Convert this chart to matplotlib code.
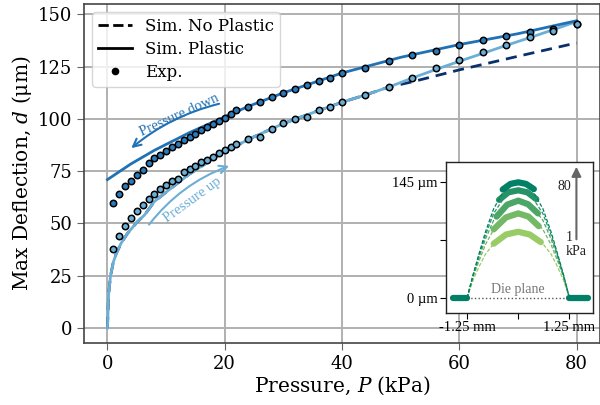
import matplotlib
matplotlib.use("Agg")
import matplotlib.pyplot as plt
from matplotlib.lines import Line2D

plt.rcParams['font.family'] = ['DejaVu Serif']
plt.rcParams['mathtext.fontset'] = 'dejavuserif'

# experimental points, loading (pressure up)
p_up = [1, 2, 3, 4, 5, 6, 7, 8, 9, 10, 11, 12, 13, 14, 15, 16, 17, 18, 19, 20, 21, 22,
        24, 26, 28, 30, 32, 34, 36, 38, 40, 44, 48, 52, 56, 60, 64, 68, 72, 76, 80]
d_up = [37.6, 43.9, 48.8, 52.7, 56.1, 59.0, 61.7, 64.1, 66.5, 68.4, 70.5, 71.3, 74.4, 76.0,
        77.6, 79.2, 80.6, 82.0, 83.5, 85.0, 86.6, 88.0,
        90.4, 91.6, 95.1, 97.9, 100.0, 100.8, 104.1, 105.8, 108.0,
        111.6, 115.5, 119.4, 124.3, 128.0, 132.0, 135.2, 139.4, 141.9, 145.4]

# experimental points, unloading (pressure down)
p_down = p_up
d_down = [60.0, 63.9, 67.9, 70.5, 73.0, 75.8, 78.9, 81.1, 83.0, 84.8, 86.4, 88.1, 90.0, 91.5,
          92.9, 94.5, 96.0, 97.6, 99.1, 100.5, 102.6, 104.1,
          105.9, 108.0, 110.4, 112.4, 114.2, 116.2, 118.2, 119.4, 122.1,
          124.6, 127.9, 130.7, 132.7, 135.5, 137.7, 139.6, 141.7, 143.3, 145.4]

# simulation with plasticity, loading branch
sim_up_p = [0, 0.2, 0.5, 1, 1.5, 2.3, 3.4, 5, 6.3, 8, 10, 14, 20, 25, 30, 35, 40,
            44, 48, 52, 56, 60, 64, 68, 72, 76, 80]
sim_up_d = [0, 16, 24.5, 31.5, 35.6, 40.4, 45.2, 50.5, 54, 60.5, 65, 73.7, 84.5, 91.5,
            97.8, 103, 108, 111.5, 115.3, 119.6, 123.7, 127.6, 131.4, 135.2, 138.9, 142.7, 146.6]

# simulation with plasticity, unloading branch
sim_down_p = [0, 4, 8, 14, 20, 24, 30, 40, 50, 60, 70, 80]
sim_down_d = [71, 78.5, 85, 93.5, 101, 106, 112.5, 122, 129.5, 135.6, 140.8, 147]

# simulation without plasticity
sim_el_p = [0, 0.2, 0.5, 1, 1.5, 2.3, 3.4, 5, 6.3, 8, 10, 14, 20, 25, 30, 35, 40,
            44, 48, 52, 60, 70, 80]
sim_el_d = [0, 16, 24.5, 31.5, 35.6, 40.4, 45.2, 50.5, 54, 60.5, 65, 73.7, 84.5, 91.5,
            97.8, 103, 108, 111.5, 115.3, 117.8, 123.5, 130, 136.4]

# inset: membrane profiles (x in mm, deflection in um), 80 kPa first
prof_x = [-1.25, -1.1, -0.95, -0.8, -0.6, -0.3, 0, 0.3, 0.6, 0.8, 0.95, 1.1, 1.25]
prof_fit = [
    [0, 30, 57, 83, 112, 139, 145, 139, 112, 83, 57, 30, 0],
    [0, 29, 55, 79, 106, 129.5, 135, 129.5, 106, 79, 55, 29, 0],
    [0, 28, 52, 74, 97.5, 117, 122, 117, 97.5, 74, 52, 28, 0],
    [0, 27, 47.5, 67, 86, 101.5, 106, 101.5, 86, 67, 47.5, 27, 0],
    [0, 23, 40, 55, 68, 80, 83, 80, 68, 55, 40, 23, 0],
]
scan_x = [
    [-0.38, -0.19, 0, 0.19, 0.38],
    [-0.47, -0.24, 0, 0.22, 0.44],
    [-0.53, -0.27, 0, 0.24, 0.48],
    [-0.6, -0.3, 0, 0.25, 0.5],
    [-0.6, -0.3, 0, 0.28, 0.55],
]
scan_d = [
    [136, 143, 145, 143, 136.5],
    [123, 132.5, 135, 132.5, 124],
    [102, 117, 122, 117.5, 106],
    [86, 101, 106, 102, 90],
    [68, 79.5, 83, 79.5, 70],
]
die_left = [-1.6, -1.25]
die_right = [1.25, 1.7]

c_up = '#6baed6'
c_down = '#2171b5'
c_down_pts = '#2b7bba'
c_el = '#08306b'

fig = plt.figure(figsize=(6, 4.05), dpi=100)
ax = fig.add_axes([0.14, 0.152, 0.86, 0.838])

ax.plot(sim_el_p, sim_el_d, '--', color=c_el, lw=2, dashes=(4, 2.5), zorder=2)
ax.plot(sim_up_p, sim_up_d, '-', color=c_up, lw=2, zorder=3)
ax.plot(sim_down_p, sim_down_d, '-', color=c_down, lw=2, zorder=3)
ax.plot(p_down, d_down, 'o', mfc=c_down_pts, mec='black', mew=1.1, ms=4.6, zorder=4)
ax.plot(p_up, d_up, 'o', mfc=c_up, mec='black', mew=1.1, ms=4.6, zorder=4)

ax.set_xlim(-4, 84)
ax.set_ylim(-7.4, 155)
ax.set_xticks([0, 20, 40, 60, 80])
ax.set_yticks([0, 25, 50, 75, 100, 125, 150])
ax.grid(True, color='#b0b0b0', lw=1.4)
ax.set_axisbelow(True)
for s in ax.spines.values():
    s.set_color('#444444')
    s.set_linewidth(1.2)
ax.tick_params(direction='out', length=5, color='#666666', labelsize=13)
ax.set_xlabel('Pressure, $P$ (kPa)', fontsize=14.5, labelpad=1)
ax.set_ylabel('Max Deflection, $d$ (μm)', fontsize=14.5, labelpad=3)

# hysteresis arrows
ax.annotate('', xy=(3.7, 85.2), xytext=(19.5, 107.6),
            arrowprops=dict(arrowstyle='->', color=c_down, lw=1.5,
                            connectionstyle='arc3,rad=0.12', mutation_scale=14))
ax.text(12.2, 101.8, 'Pressure down', color=c_down, rotation=24.5, fontsize=10.5,
        family='Liberation Serif', ha='center', va='center')
ax.annotate('', xy=(21.2, 78), xytext=(6.8, 48.4),
            arrowprops=dict(arrowstyle='->', color=c_up, lw=1.5,
                            connectionstyle='arc3,rad=-0.15', mutation_scale=14))
ax.text(14.5, 61.5, 'Pressure up', color=c_up, rotation=36, fontsize=10.5,
        family='Liberation Serif', ha='center', va='center')

handles = [Line2D([], [], color='black', ls='--', lw=2),
           Line2D([], [], color='black', ls='-', lw=2),
           Line2D([], [], color='black', ls='none', marker='o', ms=4.5)]
ax.legend(handles, ['Sim. No Plastic', 'Sim. Plastic', 'Exp.'], loc='upper left',
          fontsize=12, framealpha=0.8, handlelength=2, borderpad=0.35, labelspacing=0.35)

# inset with deflection profiles
axi = fig.add_axes([0.743, 0.227, 0.245, 0.374])
cmap = plt.get_cmap('summer')
n = len(prof_fit)
for i in reversed(range(n)):
    col = cmap(0.15 * i)
    axi.plot(prof_x, prof_fit[i], '--', color=col, lw=0.9, dashes=(3, 1.5))
    axi.plot(scan_x[i], scan_d[i], '-', color=col, lw=4.5, solid_capstyle='round')
axi.plot(die_left, [0, 0], '-', color=cmap(0), lw=4.5, solid_capstyle='round')
axi.plot(die_right, [0, 0], '-', color=cmap(0), lw=4.5, solid_capstyle='round')
axi.plot([-1.25, 1.25], [0, 0], ':', color='#555555', lw=1)
axi.text(0, 10, 'Die plane', color='#777777', fontsize=10, family='Liberation Serif',
         ha='center', va='center')
axi.annotate('', xy=(1.42, 168), xytext=(1.42, 70),
             arrowprops=dict(arrowstyle='-|>', color='#666666', lw=1.5, mutation_scale=14))
axi.text(1.3, 140, '80', fontsize=10, family='Liberation Serif', ha='right', va='center',
         color='#222222')
axi.text(1.16, 67, '1\nkPa', fontsize=10, family='Liberation Serif', ha='left', va='center',
         color='#222222', linespacing=1.1)
axi.set_xlim(-1.77, 1.82)
axi.set_ylim(-19, 171)
axi.set_xticks([-1.25, 0, 1.25])
axi.set_xticklabels(['-1.25 mm', '', '1.25 mm'], family='Liberation Serif')
axi.set_yticks([0, 72.5, 145])
axi.set_yticklabels(['0 µm', '', '145 µm'], family='Liberation Serif')
axi.tick_params(labelsize=10.5, length=4, pad=2)
for s in axi.spines.values():
    s.set_color('#222222')
    s.set_linewidth(1)

fig.savefig('out.png', dpi=100)
